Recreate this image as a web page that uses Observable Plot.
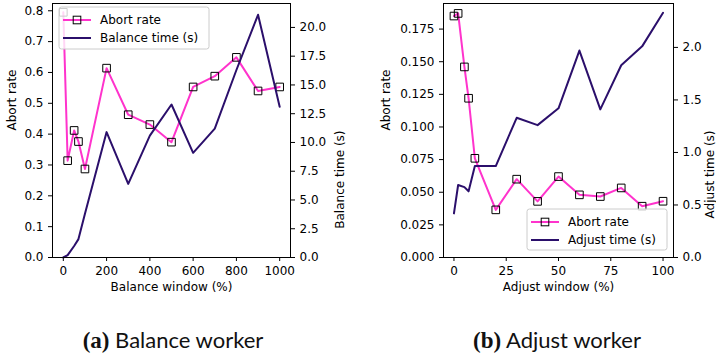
<!DOCTYPE html>
<html><head><meta charset="utf-8">
<script src="https://cdn.jsdelivr.net/npm/d3@7"></script>
<script src="https://cdn.jsdelivr.net/npm/@observablehq/plot@0.6"></script>
<style>
body{margin:0;background:#fff;}
#wrap{position:relative;width:716px;height:358px;overflow:hidden;background:#fff;font-family:"DejaVu Sans";}
.panel{position:absolute;top:0;}
.cap{position:absolute;top:327px;font-family:Lato;font-size:22px;line-height:26px;color:#111;text-align:center;width:300px;white-space:nowrap;}
.cap b{font-family:"Liberation Serif";font-weight:bold;font-size:23px;}
</style></head><body><div id="wrap"></div>
<script>
// ---- data (a) Balance worker ----
const balanceWindow = [0, 20, 50, 70, 100, 200, 300, 400, 500, 600, 700, 800, 900, 1000];
const balanceAbort  = [0.795, 0.314, 0.412, 0.376, 0.287, 0.614, 0.463, 0.431, 0.374, 0.553, 0.588, 0.649, 0.540, 0.553];
const balanceTime   = [0.0, 0.2, 1.0, 1.6, 3.8, 10.9, 6.4, 10.6, 13.3, 9.1, 11.2, 16.3, 21.1, 13.1];
const balanceXTicks = [0, 200, 400, 600, 800, 1000];
const balanceYTicks = [0, 0.1, 0.2, 0.3, 0.4, 0.5, 0.6, 0.7, 0.8];
const balanceTTicks = [0, 2.5, 5, 7.5, 10, 12.5, 15, 17.5, 20];

// ---- data (b) Adjust worker ----
const adjustWindow = [0, 2, 5, 7, 10, 20, 30, 40, 50, 60, 70, 80, 90, 100];
const adjustAbort  = [0.185, 0.187, 0.146, 0.122, 0.076, 0.0365, 0.060, 0.043, 0.062, 0.048, 0.0467, 0.0533, 0.0393, 0.0431];
const adjustTime   = [0.42, 0.69, 0.67, 0.63, 0.87, 0.87, 1.33, 1.26, 1.42, 1.97, 1.41, 1.83, 2.01, 2.33];
const adjustXTicks = [0, 25, 50, 75, 100];
const adjustYTicks = [0, 0.025, 0.05, 0.075, 0.1, 0.125, 0.15, 0.175];
const adjustTTicks = [0, 0.5, 1.0, 1.5, 2.0];

const PINK = "#ff33cc";
const PURPLE = "#2b0f6b";

function panel(o) {
  const k = o.yTop / o.tTop;
  const rows = o.xs.map((x, i) => ({x, a: o.abort[i], t: o.time[i] * k}));
  const tt = o.tTicks.map(v => v * k);
  return Plot.plot({
    width: o.width, height: 300,
    marginLeft: o.ml, marginRight: o.mr, marginTop: 3, marginBottom: 43,
    style: {fontFamily: "DejaVu Sans", fontSize: "12px", color: "#000", background: "transparent", overflow: "visible"},
    x: {domain: o.xDomain},
    y: {domain: [0, o.yTop]},
    marks: [
      Plot.axisX(o.xTicks, {tickSize: 4, tickPadding: 5, label: null, tickFormat: d => String(d)}),
      Plot.axisY(o.yTicks, {anchor: "left", tickSize: 4, tickPadding: 5, label: null, tickFormat: o.yFmt}),
      Plot.axisY(tt, {anchor: "right", tickSize: 4, tickPadding: 5, label: null, tickFormat: d => (Math.round(d / k * 100) / 100).toFixed(1)}),
      Plot.line(rows, {x: "x", y: "a", stroke: PINK, strokeWidth: 2}),
      Plot.dot(rows, {x: "x", y: "a", symbol: "square", r: 4.3, stroke: "#000", fill: "none", strokeWidth: 1}),
      Plot.line(rows, {x: "x", y: "t", stroke: PURPLE, strokeWidth: 2}),
      Plot.frame({stroke: "#000", strokeWidth: 1}),
      Plot.text([o.xLabel], {text: d => d, frameAnchor: "bottom", dy: 33, fontSize: 12}),
      Plot.text([o.yLabel], {text: d => d, frameAnchor: "left", rotate: -90, dx: o.dxL, fontSize: 12}),
      Plot.text([o.tLabel], {text: d => d, frameAnchor: "right", rotate: -90, dx: o.dxR, fontSize: 12})
    ]
  });
}

function legend(svgLeft, box, entries) {
  const svg = d3.create("svg").attr("width", 358).attr("height", 300)
    .style("position", "absolute").style("left", svgLeft + "px").style("top", "0px")
    .style("font-family", "DejaVu Sans").style("font-size", "12px");
  svg.append("rect").attr("x", box.x).attr("y", box.y).attr("width", box.w).attr("height", box.h)
    .attr("rx", 2.5).attr("fill", "#fff").attr("fill-opacity", 0.8).attr("stroke", "#ccc").attr("stroke-width", 1);
  entries.forEach((e, i) => {
    const y = box.y + 13 + i * 18;
    svg.append("line").attr("x1", box.x + 4).attr("x2", box.x + 32).attr("y1", y).attr("y2", y)
      .attr("stroke", e.color).attr("stroke-width", 2);
    if (e.marker) svg.append("rect").attr("x", box.x + 18 - 3.8).attr("y", y - 3.8).attr("width", 7.6).attr("height", 7.6)
      .attr("fill", "none").attr("stroke", "#000").attr("stroke-width", 1);
    svg.append("text").attr("x", box.x + 41).attr("y", y).attr("dy", "0.35em").text(e.label);
  });
  return svg.node();
}

const wrap = document.getElementById("wrap");

const pa = panel({
  xs: balanceWindow, abort: balanceAbort, time: balanceTime,
  xDomain: [-50, 1050], xTicks: balanceXTicks,
  yTop: 0.8236, yTicks: balanceYTicks, yFmt: d => d.toFixed(1),
  tTop: 22.08, tTicks: balanceTTicks,
  xLabel: "Balance window (%)", yLabel: "Abort rate", tLabel: "Balance time (s)",
  width: 358, ml: 52, mr: 68, dxL: -40, dxR: 50
});
pa.classList.add("panel"); pa.style.left = "0px";
wrap.appendChild(pa);
wrap.appendChild(legend(0, {x: 59, y: 7, w: 150, h: 42}, [
  {label: "Abort rate", color: PINK, marker: true},
  {label: "Balance time (s)", color: PURPLE}
]));

const pb = panel({
  xs: adjustWindow, abort: adjustAbort, time: adjustTime,
  xDomain: [-5, 105], xTicks: adjustXTicks,
  yTop: 0.1946, yTicks: adjustYTicks, yFmt: d => d.toFixed(3),
  tTop: 2.418, tTicks: adjustTTicks,
  xLabel: "Adjust window (%)", yLabel: "Abort rate", tLabel: "Adjust time (s)",
  width: 358, ml: 85, mr: 43, dxL: -57, dxR: 37
});
pb.classList.add("panel"); pb.style.left = "358px";
wrap.appendChild(pb);
wrap.appendChild(legend(358, {x: 169, y: 209, w: 140, h: 41}, [
  {label: "Abort rate", color: PINK, marker: true},
  {label: "Adjust time (s)", color: PURPLE}
]));

const ca = document.createElement("div");
ca.className = "cap"; ca.style.left = "23px";
ca.innerHTML = "<b>(a)</b> Balance worker";
wrap.appendChild(ca);
const cb = document.createElement("div");
cb.className = "cap"; cb.style.left = "407px";
cb.innerHTML = "<b>(b)</b> Adjust worker";
wrap.appendChild(cb);
</script>
</body></html>
